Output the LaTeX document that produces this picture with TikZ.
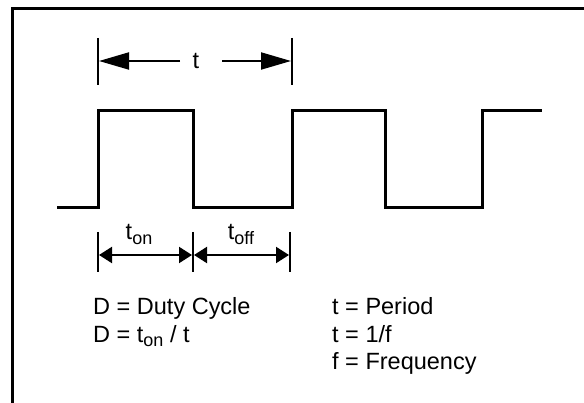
\documentclass[tikz,border=0pt]{standalone}
\usepackage{fontspec}
\setmainfont{Liberation Sans}
\usetikzlibrary{arrows.meta}
\newcommand{\sbs}[1]{\raisebox{-4.5pt}{\fontsize{18}{18}\selectfont #1}}
\begin{document}
\begin{tikzpicture}[x=1pt,y=-1pt,
  frame/.style={line width=3pt},
  wave/.style={line width=3pt},
  tick/.style={line width=2pt},
  bigarrow/.style={line width=2pt,-{Triangle[length=30pt,width=17pt]}},
  smallarrow/.style={line width=2pt,{Triangle[length=13pt,width=16pt]}-{Triangle[length=13pt,width=16pt]}},
  lbl/.style={inner sep=0pt,font=\fontsize{23.5}{27}\selectfont}]
\useasboundingbox (0,0) rectangle (584,403);
% frame (open on right and bottom)
\draw[frame] (12,403) -- (12,9) -- (584,9);
% waveform
\draw[wave] (57,208) -- (98,208) -- (98,111) -- (193,111) -- (193,208) -- (292,208)
  -- (292,111) -- (385,111) -- (385,208) -- (482,208) -- (482,111) -- (542,111);
% period marker
\coordinate (p1a) at (98,38); \coordinate (p1b) at (98,85);
\coordinate (p2a) at (292,38); \coordinate (p2b) at (292,85);
\draw[tick] (p1a) -- (p1b);
\draw[tick] (p2a) -- (p2b);
\node[lbl,anchor=base] (tlab) at (196,69) {t};
\coordinate (pl) at (99,61); \coordinate (pr) at (291,61);
\coordinate (ls) at (180,61); \coordinate (rs) at (222,61);
\draw[bigarrow] (ls) -- (pl);
\draw[bigarrow] (rs) -- (pr);
% ton / toff markers
\coordinate (q1a) at (98,232); \coordinate (q1b) at (98,272);
\coordinate (q2a) at (193,232); \coordinate (q2b) at (193,272);
\coordinate (q3a) at (290,232); \coordinate (q3b) at (290,272);
\draw[tick] (q1a) -- (q1b);
\draw[tick] (q2a) -- (q2b);
\draw[tick] (q3a) -- (q3b);
\coordinate (a1) at (99,255); \coordinate (a2) at (192,255);
\coordinate (a3) at (194,255); \coordinate (a4) at (289,255);
\draw[smallarrow] (a1) -- (a2);
\draw[smallarrow] (a3) -- (a4);
\node[lbl,anchor=base] (ton) at (139,240) {t\sbs{on}};
\node[lbl,anchor=base] (toff) at (241,240) {t\sbs{off}};
% legend
\node[lbl,anchor=base west] (d1) at (93,315) {D = Duty Cycle};
\node[lbl,anchor=base west] (d2) at (93,342.5) {D = t\sbs{on} / t};
\node[lbl,anchor=base west] (f1) at (332,315) {t = Period};
\node[lbl,anchor=base west] (f2) at (332,342.5) {t = 1/f};
\node[lbl,anchor=base west] (f3) at (332,370) {f = Frequency};
\end{tikzpicture}
\end{document}
